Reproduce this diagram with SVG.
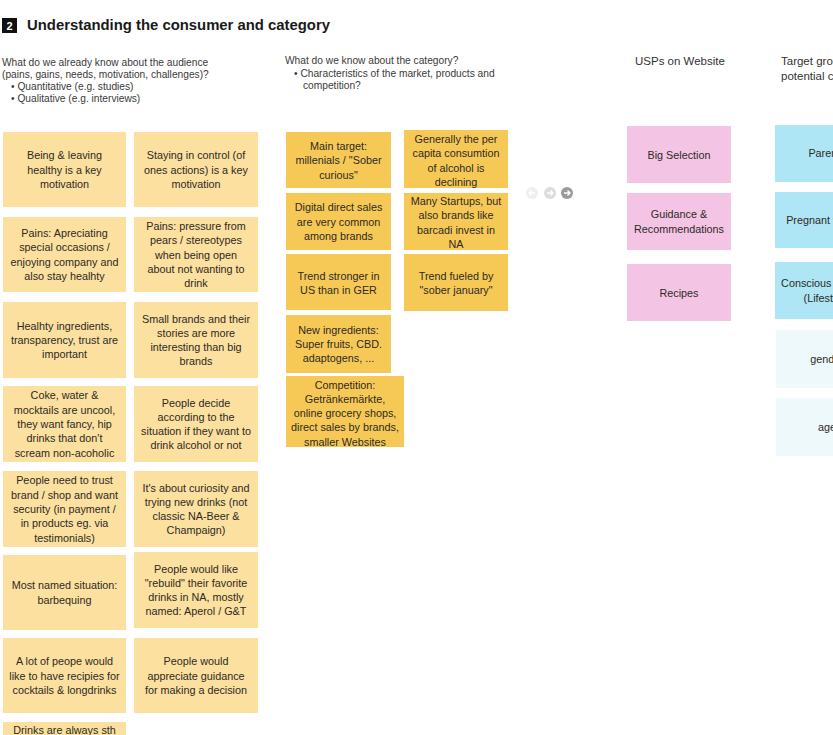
<svg xmlns="http://www.w3.org/2000/svg" width="833" height="735" viewBox="0 0 833 735">
<style>
.t{font-family:"Liberation Sans",Arial,sans-serif;font-size:10.8px;fill:#2e2a24;text-anchor:middle}
.h{font-family:"Liberation Sans",Arial,sans-serif;font-size:10.2px;fill:#3a3a3a}
.h2{font-family:"Liberation Sans",Arial,sans-serif;font-size:11.5px;fill:#333}
.ttl{font-family:"Liberation Sans",Arial,sans-serif;font-size:15.5px;font-weight:bold;fill:#1a1a1a}
.y1{fill:#fbe0a0}
.y2{fill:#f6c957}
.pk{fill:#f4c4e4}
.bl{fill:#aee6f6}
.lb{fill:#eef9fb}
</style>
<rect width="833" height="735" fill="#ffffff"/>

<g id="title">
<rect x="2" y="18" width="15" height="15" fill="#111"/>
<text x="9.5" y="30" style="font-family:'Liberation Sans',Arial,sans-serif;font-size:11px;font-weight:bold;fill:#fff;text-anchor:middle">2</text>
<text class="ttl" x="27" y="30" textLength="303" lengthAdjust="spacingAndGlyphs">Understanding the consumer and category</text>
</g>

<g id="header-audience">
<text class="h" x="2" y="66">What do we already know about the audience</text>
<text class="h" x="2" y="78">(pains, gains, needs, motivation, challenges)?</text>
<text class="h" x="11" y="90">•  Quantitative (e.g. studies)</text>
<text class="h" x="11" y="102">•  Qualitative (e.g. interviews)</text>
</g>
<g id="header-category">
<text class="h" x="285" y="64">What do we know about the category?</text>
<text class="h" x="294" y="77">•  Characteristics of the market, products and</text>
<text class="h" x="303" y="89">competition?</text>
</g>
<g id="header-usps"><text class="h2" x="635" y="65">USPs on Website</text></g>
<g id="header-target">
<text class="h2" x="781" y="65">Target groups</text>
<text class="h2" x="781" y="80">potential customers</text>
</g>

<!-- left column -->
<g id="a1"><rect class="y1" x="3" y="132" width="123" height="75"/><text class="t" x="64.5" y="159.2">Being &amp; leaving<tspan x="64.5" dy="14.3">healthy is a key</tspan><tspan x="64.5" dy="14.3">motivation</tspan></text></g>
<g id="a2"><rect class="y1" x="134" y="132" width="124" height="75"/><text class="t" x="196" y="159.2">Staying in control (of<tspan x="196" dy="14.3">ones actions) is a key</tspan><tspan x="196" dy="14.3">motivation</tspan></text></g>
<g id="a3"><rect class="y1" x="3" y="217" width="123" height="75"/><text class="t" x="64.5" y="237">Pains: Apreciating<tspan x="64.5" dy="14.3">special occasions /</tspan><tspan x="64.5" dy="14.3">enjoying company and</tspan><tspan x="64.5" dy="14.3">also stay healhty</tspan></text></g>
<g id="a4"><rect class="y1" x="134" y="217" width="124" height="75"/><text class="t" x="196" y="229.9">Pains: pressure from<tspan x="196" dy="14.3">pears / stereotypes</tspan><tspan x="196" dy="14.3">when being open</tspan><tspan x="196" dy="14.3">about not wanting to</tspan><tspan x="196" dy="14.3">drink</tspan></text></g>
<g id="a5"><rect class="y1" x="3" y="302" width="123" height="76"/><text class="t" x="64.5" y="329.7">Healhty ingredients,<tspan x="64.5" dy="14.3">transparency, trust are</tspan><tspan x="64.5" dy="14.3">important</tspan></text></g>
<g id="a6"><rect class="y1" x="134" y="302" width="124" height="76"/><text class="t" x="196" y="322.5">Small brands and their<tspan x="196" dy="14.3">stories are more</tspan><tspan x="196" dy="14.3">interesting than big</tspan><tspan x="196" dy="14.3">brands</tspan></text></g>
<g id="a7"><rect class="y1" x="3" y="386" width="123" height="76"/><text class="t" x="64.5" y="399.4">Coke, water &amp;<tspan x="64.5" dy="14.3">mocktails are uncool,</tspan><tspan x="64.5" dy="14.3">they want fancy, hip</tspan><tspan x="64.5" dy="14.3">drinks that don't</tspan><tspan x="64.5" dy="14.3">scream non-acoholic</tspan></text></g>
<g id="a8"><rect class="y1" x="134" y="386" width="124" height="76"/><text class="t" x="196" y="406.5">People decide<tspan x="196" dy="14.3">according to the</tspan><tspan x="196" dy="14.3">situation if they want to</tspan><tspan x="196" dy="14.3">drink alcohol or not</tspan></text></g>
<g id="a9"><rect class="y1" x="3" y="471" width="123" height="76"/><text class="t" x="64.5" y="484.4">People need to trust<tspan x="64.5" dy="14.3">brand / shop and want</tspan><tspan x="64.5" dy="14.3">security (in payment /</tspan><tspan x="64.5" dy="14.3">in products eg. via</tspan><tspan x="64.5" dy="14.3">testimonials)</tspan></text></g>
<g id="a10"><rect class="y1" x="134" y="471" width="124" height="76"/><text class="t" x="196" y="491.5">It's about curiosity and<tspan x="196" dy="14.3">trying new drinks (not</tspan><tspan x="196" dy="14.3">classic NA-Beer &amp;</tspan><tspan x="196" dy="14.3">Champaign)</tspan></text></g>
<g id="a11"><rect class="y1" x="3" y="555" width="123" height="75"/><text class="t" x="64.5" y="589.3">Most named situation:<tspan x="64.5" dy="14.3">barbequing</tspan></text></g>
<g id="a12"><rect class="y1" x="134" y="552" width="124" height="76"/><text class="t" x="196" y="572.5">People would like<tspan x="196" dy="14.3">"rebuild" their favorite</tspan><tspan x="196" dy="14.3">drinks in NA, mostly</tspan><tspan x="196" dy="14.3">named: Aperol / G&amp;T</tspan></text></g>
<g id="a13"><rect class="y1" x="3" y="638" width="123" height="75"/><text class="t" x="64.5" y="665.2">A lot of peope would<tspan x="64.5" dy="14.3">like to have recipies for</tspan><tspan x="64.5" dy="14.3">cocktails &amp; longdrinks</tspan></text></g>
<g id="a14"><rect class="y1" x="134" y="638" width="124" height="75"/><text class="t" x="196" y="665.2">People would<tspan x="196" dy="14.3">appreciate guidance</tspan><tspan x="196" dy="14.3">for making a decision</tspan></text></g>
<g id="a15"><rect class="y1" x="3" y="722" width="123" height="75"/><text class="t" x="64.5" y="733.5">Drinks are always sth</text></g>

<!-- middle column -->
<g id="b1"><rect class="y2" x="286" y="132" width="105" height="56"/><text class="t" x="338.5" y="150">Main target:<tspan x="338.5" dy="14.3">millenials / "Sober</tspan><tspan x="338.5" dy="14.3">curious"</tspan></text></g>
<g id="b2"><rect class="y2" x="404" y="130" width="104" height="58"/><text class="t" x="456" y="143">Generally the per<tspan x="456" dy="14.3">capita consumtion</tspan><tspan x="456" dy="14.3">of alcohol is</tspan><tspan x="456" dy="14.3">declining</tspan></text></g>
<g id="b3"><rect class="y2" x="286" y="193" width="105" height="57"/><text class="t" x="338.5" y="211.2">Digital direct sales<tspan x="338.5" dy="14.3">are very common</tspan><tspan x="338.5" dy="14.3">among brands</tspan></text></g>
<g id="b4"><rect class="y2" x="404" y="193" width="104" height="57"/><text class="t" x="456" y="205">Many Startups, but<tspan x="456" dy="14.3">also brands like</tspan><tspan x="456" dy="14.3">barcadi invest in</tspan><tspan x="456" dy="14.3">NA</tspan></text></g>
<g id="b5"><rect class="y2" x="286" y="254" width="105" height="56"/><text class="t" x="338.5" y="279.5">Trend stronger in<tspan x="338.5" dy="14.3">US than in GER</tspan></text></g>
<g id="b6"><rect class="y2" x="404" y="254" width="104" height="57"/><text class="t" x="456" y="279.5">Trend fueled by<tspan x="456" dy="14.3">"sober january"</tspan></text></g>
<g id="b7"><rect class="y2" x="286" y="315" width="105" height="58"/><text class="t" x="338.5" y="333.7">New ingredients:<tspan x="338.5" dy="14.3">Super fruits, CBD.</tspan><tspan x="338.5" dy="14.3">adaptogens, ...</tspan></text></g>
<g id="b8"><rect class="y2" x="286" y="376" width="118" height="71"/><text class="t" x="345" y="388.5">Competition:<tspan x="345" dy="14.3">Getränkemärkte,</tspan><tspan x="345" dy="14.3">online grocery shops,</tspan><tspan x="345" dy="14.3">direct sales by brands,</tspan><tspan x="345" dy="14.3">smaller Websites</tspan></text></g>

<!-- pager icons -->
<g id="pager">
<circle cx="532" cy="193" r="6" fill="#efefef"/>
<path d="M535 193h-6M531.5 190.5l-2.5 2.5 2.5 2.5" stroke="#fff" stroke-width="1.4" fill="none"/>
<circle cx="550" cy="193" r="6" fill="#dcdcdc"/>
<path d="M547 193h6M550.5 190.5l2.5 2.5-2.5 2.5" stroke="#fff" stroke-width="1.4" fill="none"/>
<circle cx="567" cy="193" r="6" fill="#9a9a9a"/>
<path d="M564 193h6M567.5 190.5l2.5 2.5-2.5 2.5" stroke="#fff" stroke-width="1.4" fill="none"/>
</g>

<!-- USPs -->
<g id="c1"><rect class="pk" x="627" y="126" width="104" height="57"/><text class="t" x="679" y="158.5">Big Selection</text></g>
<g id="c2"><rect class="pk" x="627" y="193" width="104" height="57"/><text class="t" x="679" y="218.4">Guidance &amp;<tspan x="679" dy="14.3">Recommendations</tspan></text></g>
<g id="c3"><rect class="pk" x="627" y="264" width="104" height="57"/><text class="t" x="679" y="296.5">Recipes</text></g>

<!-- target groups -->
<g id="d1"><rect class="bl" x="775" y="125" width="104" height="57"/><text class="t" x="827" y="157">Parents</text></g>
<g id="d2"><rect class="bl" x="775" y="192" width="104" height="56"/><text class="t" x="827" y="224">Pregnant women</text></g>
<g id="d3"><rect class="bl" x="775" y="262" width="104" height="57"/><text class="t" x="827" y="287.4">Conscious drinkers<tspan x="827" dy="14.3">(Lifestyle)</tspan></text></g>
<g id="d4"><rect class="lb" x="776" y="330" width="104" height="58"/><text class="t" x="827" y="363">gender</text></g>
<g id="d5"><rect class="lb" x="776" y="398" width="104" height="58"/><text class="t" x="827" y="431">age</text></g>
</svg>
